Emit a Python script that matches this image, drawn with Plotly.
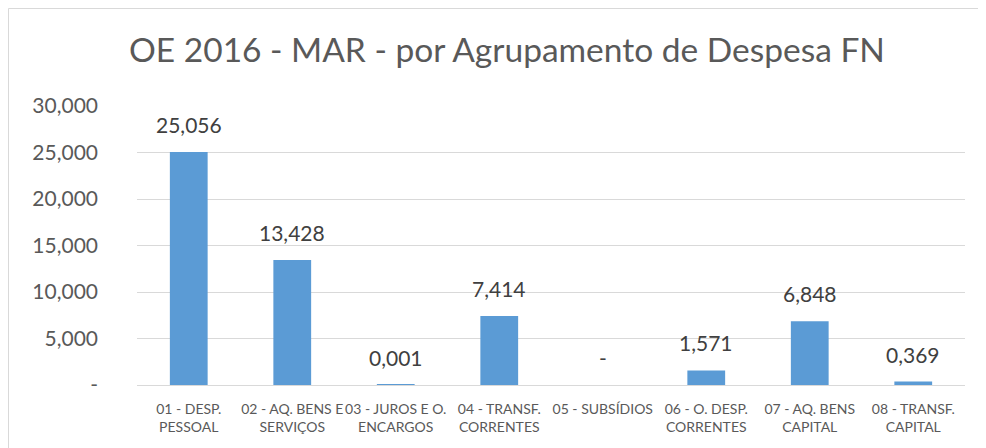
import plotly.graph_objects as go

# OE 2016 - MAR, despesa por agrupamento
categories = [
    "01 - DESP.<br>PESSOAL",
    "02 - AQ. BENS E<br>SERVIÇOS",
    "03 - JUROS E O.<br>ENCARGOS",
    "04 - TRANSF.<br>CORRENTES",
    "05 - SUBSÍDIOS",
    "06 - O. DESP.<br>CORRENTES",
    "07 - AQ. BENS<br>CAPITAL",
    "08 - TRANSF.<br>CAPITAL",
]
values = [25.056, 13.428, 0.001, 7.414, 0.0, 1.571, 6.848, 0.369]
y_ticks = [0, 5, 10, 15, 20, 25, 30]

FONT = "Lato, 'Open Sans', sans-serif"
GREY = "#595959"
GRID = "#D9D9D9"


def fmt(v):
    # estilo Excel PT: vírgula decimal, zero mostrado como "-"
    if v == 0:
        return "-"
    return f"{v:.3f}".replace(".", ",")


# the page body has an 8px margin, so the figure is drawn 8px smaller/offset
OFF = 8
W, H = 986 - OFF, 448 - OFF
L, R, T, B = 137 - OFF, 21, 106 - OFF, 63
pw, ph = W - L - R, H - T - B

fig = go.Figure(
    go.Bar(
        x=categories,
        y=values,
        marker=dict(color="#5B9BD5", line=dict(width=0)),
        width=0.365,
        hoverinfo="x+y",
    )
)

for c, v in zip(categories, values):
    fig.add_annotation(
        x=c,
        y=v,
        text=fmt(v),
        showarrow=False,
        yanchor="bottom",
        yshift=13,
        font=dict(family=FONT, size=21, color="#404040"),
    )

fig.update_layout(
    width=W,
    height=H,
    margin=dict(l=L, r=R, t=T, b=B),
    paper_bgcolor="white",
    plot_bgcolor="white",
    showlegend=False,
    font=dict(family=FONT, color=GREY),
    title=dict(
        text="OE 2016 - MAR - por Agrupamento de Despesa FN",
        font=dict(family=FONT, size=33.5, color=GREY),
        x=(507 - OFF) / W,
        xanchor="center",
        y=1 - (50 - OFF) / H,
        yanchor="middle",
    ),
    xaxis=dict(
        showgrid=False,
        showline=True,
        linecolor=GRID,
        linewidth=1,
        ticks="",
        ticklabelstandoff=11,
        tickfont=dict(family=FONT, size=14, color=GREY),
        tickangle=0,
    ),
    yaxis=dict(
        range=[0, 30],
        tickvals=y_ticks,
        ticktext=[fmt(v) for v in y_ticks],
        showgrid=True,
        gridcolor=GRID,
        gridwidth=1,
        zeroline=False,
        showline=False,
        ticks="",
        ticklabelstandoff=38,
        tickfont=dict(family=FONT, size=21, color=GREY),
    ),
    shapes=[
        dict(
            type="rect",
            xref="paper",
            yref="paper",
            x0=(0.5 - L) / pw,
            x1=(W + 5 - L) / pw,
            y0=-(B + 5) / ph,
            y1=(H - B - 0.5) / ph,
            line=dict(color=GRID, width=1),
            fillcolor="rgba(0,0,0,0)",
            layer="below",
        )
    ],
)

fig.write_html("out.html")
